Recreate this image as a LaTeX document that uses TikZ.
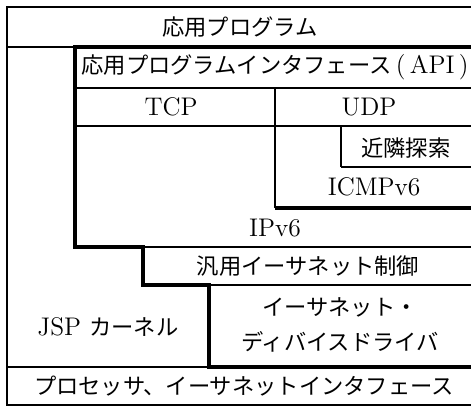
\documentclass[tikz,border=0pt]{standalone}
\usepackage{fontspec}
\newfontfamily\jp{Noto Sans CJK JP}[Scale=0.875]

\begin{document}
\begin{tikzpicture}[x=0.02cm, y=-0.02cm,
  every node/.style={inner sep=0pt, font=\fontsize{14.5}{19.5}\selectfont},
  jptext/.style={font=\fontsize{14.5}{19.5}\selectfont\jp},
  thinline/.style={line width=0.9pt},
  midline/.style={line width=1.3pt},
  thickline/.style={line width=2pt}]
\useasboundingbox (0,0) rectangle (471,407);
\clip (0,0) rectangle (471,407);

% outer frame (cut off at the right)
\draw[line width=1.5pt] (480,7) -- (7,7) -- (7,406);
\draw[thinline] (7,405) -- (480,405);

% application
\draw[thinline] (7,47) -- (75,47);
\node[jptext] (app) at (240,27) {応用プログラム};

% API
\node (api) at (275,67) {{\jp 応用プログラムインタフェース}\,(\,API\,)};
\draw[thinline] (75,88) -- (480,88);

% TCP / UDP
\draw[thinline] (275,88) -- (275,126);
\node (tcp) at (171,107) {TCP};
\node (udp) at (369,107) {UDP};
\draw[thinline] (75,126) -- (480,126);

% neighbour discovery
\draw[line width=1.6pt] (341,126) -- (341,167);
\draw[midline] (341,167) -- (480,167);
\node[jptext] (nd) at (406,148) {近隣探索};

% ICMPv6
\draw[midline] (275,126) -- (275,208);
\draw[thickline] (275,208) -- (480,208);
\node (icmp) at (374,187) {ICMPv6};

% IPv6
\node (ipv6) at (275,228) {IPv6};
\draw[thinline] (143,247) -- (480,247);

% generic ethernet control
\node[jptext] (ethctl) at (308,266) {汎用イーサネット制御};
\draw[thinline] (209,285) -- (480,285);

% device driver
\node[jptext, align=center] (drv) at (340,325) {イーサネット・\\ディバイスドライバ};

% JSP kernel
\node (jsp) at (108,327) {JSP {\jp カーネル}};
\draw[thinline] (7,367) -- (209,367);

% processor
\node[jptext] (cpu) at (244,386) {プロセッサ、イーサネットインタフェース};

% protocol stack boundary
\draw[thickline] (480,47) -- (75,47) -- (75,247) -- (143,247) -- (143,285)
  -- (209,285) -- (209,367) -- (480,367);

\end{tikzpicture}
\end{document}
